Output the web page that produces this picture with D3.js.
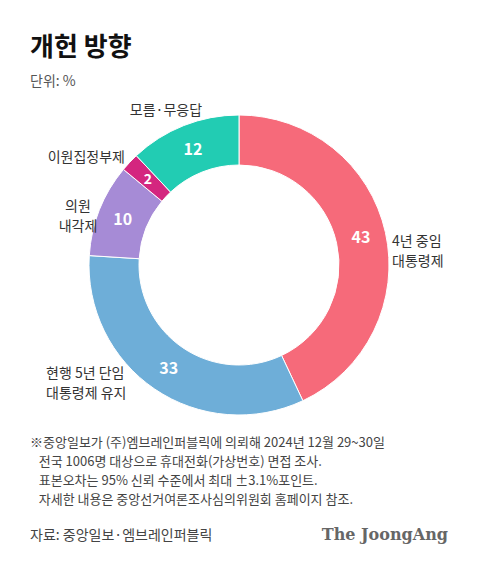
<!DOCTYPE html>
<html><head><meta charset="utf-8">
<script src="https://cdn.jsdelivr.net/npm/d3@7"></script>
<style>body{margin:0;background:#fff}svg{display:block}text{font-family:"Noto Sans CJK KR","Noto Sans",sans-serif}</style>
</head><body>
<svg id="chart" width="480" height="561"></svg>
<script>
let categories = ['4년 중임 대통령제', '현행 5년 단임 대통령제 유지', '의원 내각제', '이원집정부제', '모름·무응답'];
let values = [43, 33, 10, 2, 12];
let colors = ['#f66a7a', '#6eaed8', '#a68bd6', '#d4267f', '#22ccb3'];
let labelLines = [['4년 중임', '대통령제'], ['현행 5년 단임', '대통령제 유지'], ['의원', '내각제'], ['이원집정부제'], ['모름·무응답']];

let svg = d3.select('#chart');
let cx = 239, cy = 265, rOuter = 150, rInner = 100;

svg.append('text').attr('x', 30).attr('y', 56).attr('font-size', 26).attr('font-weight', 700)
    .attr('fill', '#111').text('개헌 방향');
svg.append('text').attr('x', 30).attr('y', 86).attr('font-size', 14).attr('fill', '#555').text('단위: %');

let pie = d3.pie().sort(null).value(d => d)(values);
let arc = d3.arc().innerRadius(rInner).outerRadius(rOuter);
let g = svg.append('g').attr('transform', `translate(${cx},${cy})`);

g.selectAll('path').data(pie).join('path')
    .attr('d', arc).attr('fill', (d, i) => colors[i])
    .attr('stroke', '#fff').attr('stroke-width', 1);

let mid = d3.arc().innerRadius((rInner + rOuter) / 2).outerRadius((rInner + rOuter) / 2);
g.selectAll('text.v').data(pie).join('text')
    .attr('class', 'v')
    .attr('transform', d => `translate(${mid.centroid(d)})`)
    .attr('text-anchor', 'middle').attr('dy', '0.36em')
    .attr('font-size', d => d.value < 5 ? 14 : 16).attr('font-weight', 700).attr('fill', '#fff')
    .text(d => d.value);

// outside labels (anchor positions picked to match the reference layout)
let labelPos = [[392, 246, 'start'], [46, 378, 'start'], [78, 211, 'middle'], [125, 162, 'end'], [166, 115, 'middle']];
labelLines.forEach((lines, i) => {
    let [x, y, anchor] = labelPos[i];
    let t = svg.append('text').attr('x', x).attr('y', y).attr('font-size', 14)
        .attr('fill', '#333').attr('text-anchor', anchor);
    lines.forEach((s, j) => t.append('tspan').attr('x', x).attr('dy', j ? 20 : 0).text(s));
});

let notes = ['※중앙일보가 (주)엠브레인퍼블릭에 의뢰해 2024년 12월 29~30일',
    '   전국 1006명 대상으로 휴대전화(가상번호) 면접 조사.',
    '   표본오차는 95% 신뢰 수준에서 최대 ±3.1%포인트.',
    '   자세한 내용은 중앙선거여론조사심의위원회 홈페이지 참조.'];
notes.forEach((s, i) => svg.append('text').attr('x', 30).attr('y', 447 + i * 19)
    .attr('font-size', 13).attr('fill', '#444').attr('xml:space', 'preserve').text(s));

svg.append('text').attr('x', 30).attr('y', 540).attr('font-size', 14).attr('fill', '#444')
    .text('자료: 중앙일보·엠브레인퍼블릭');
svg.append('text').attr('x', 448).attr('y', 540).attr('text-anchor', 'end')
    .attr('font-weight', 700).attr('font-size', 16)
    .attr('fill', '#666').style('font-family', 'DejaVu Serif, serif').text('The JoongAng');
</script>
</body></html>
